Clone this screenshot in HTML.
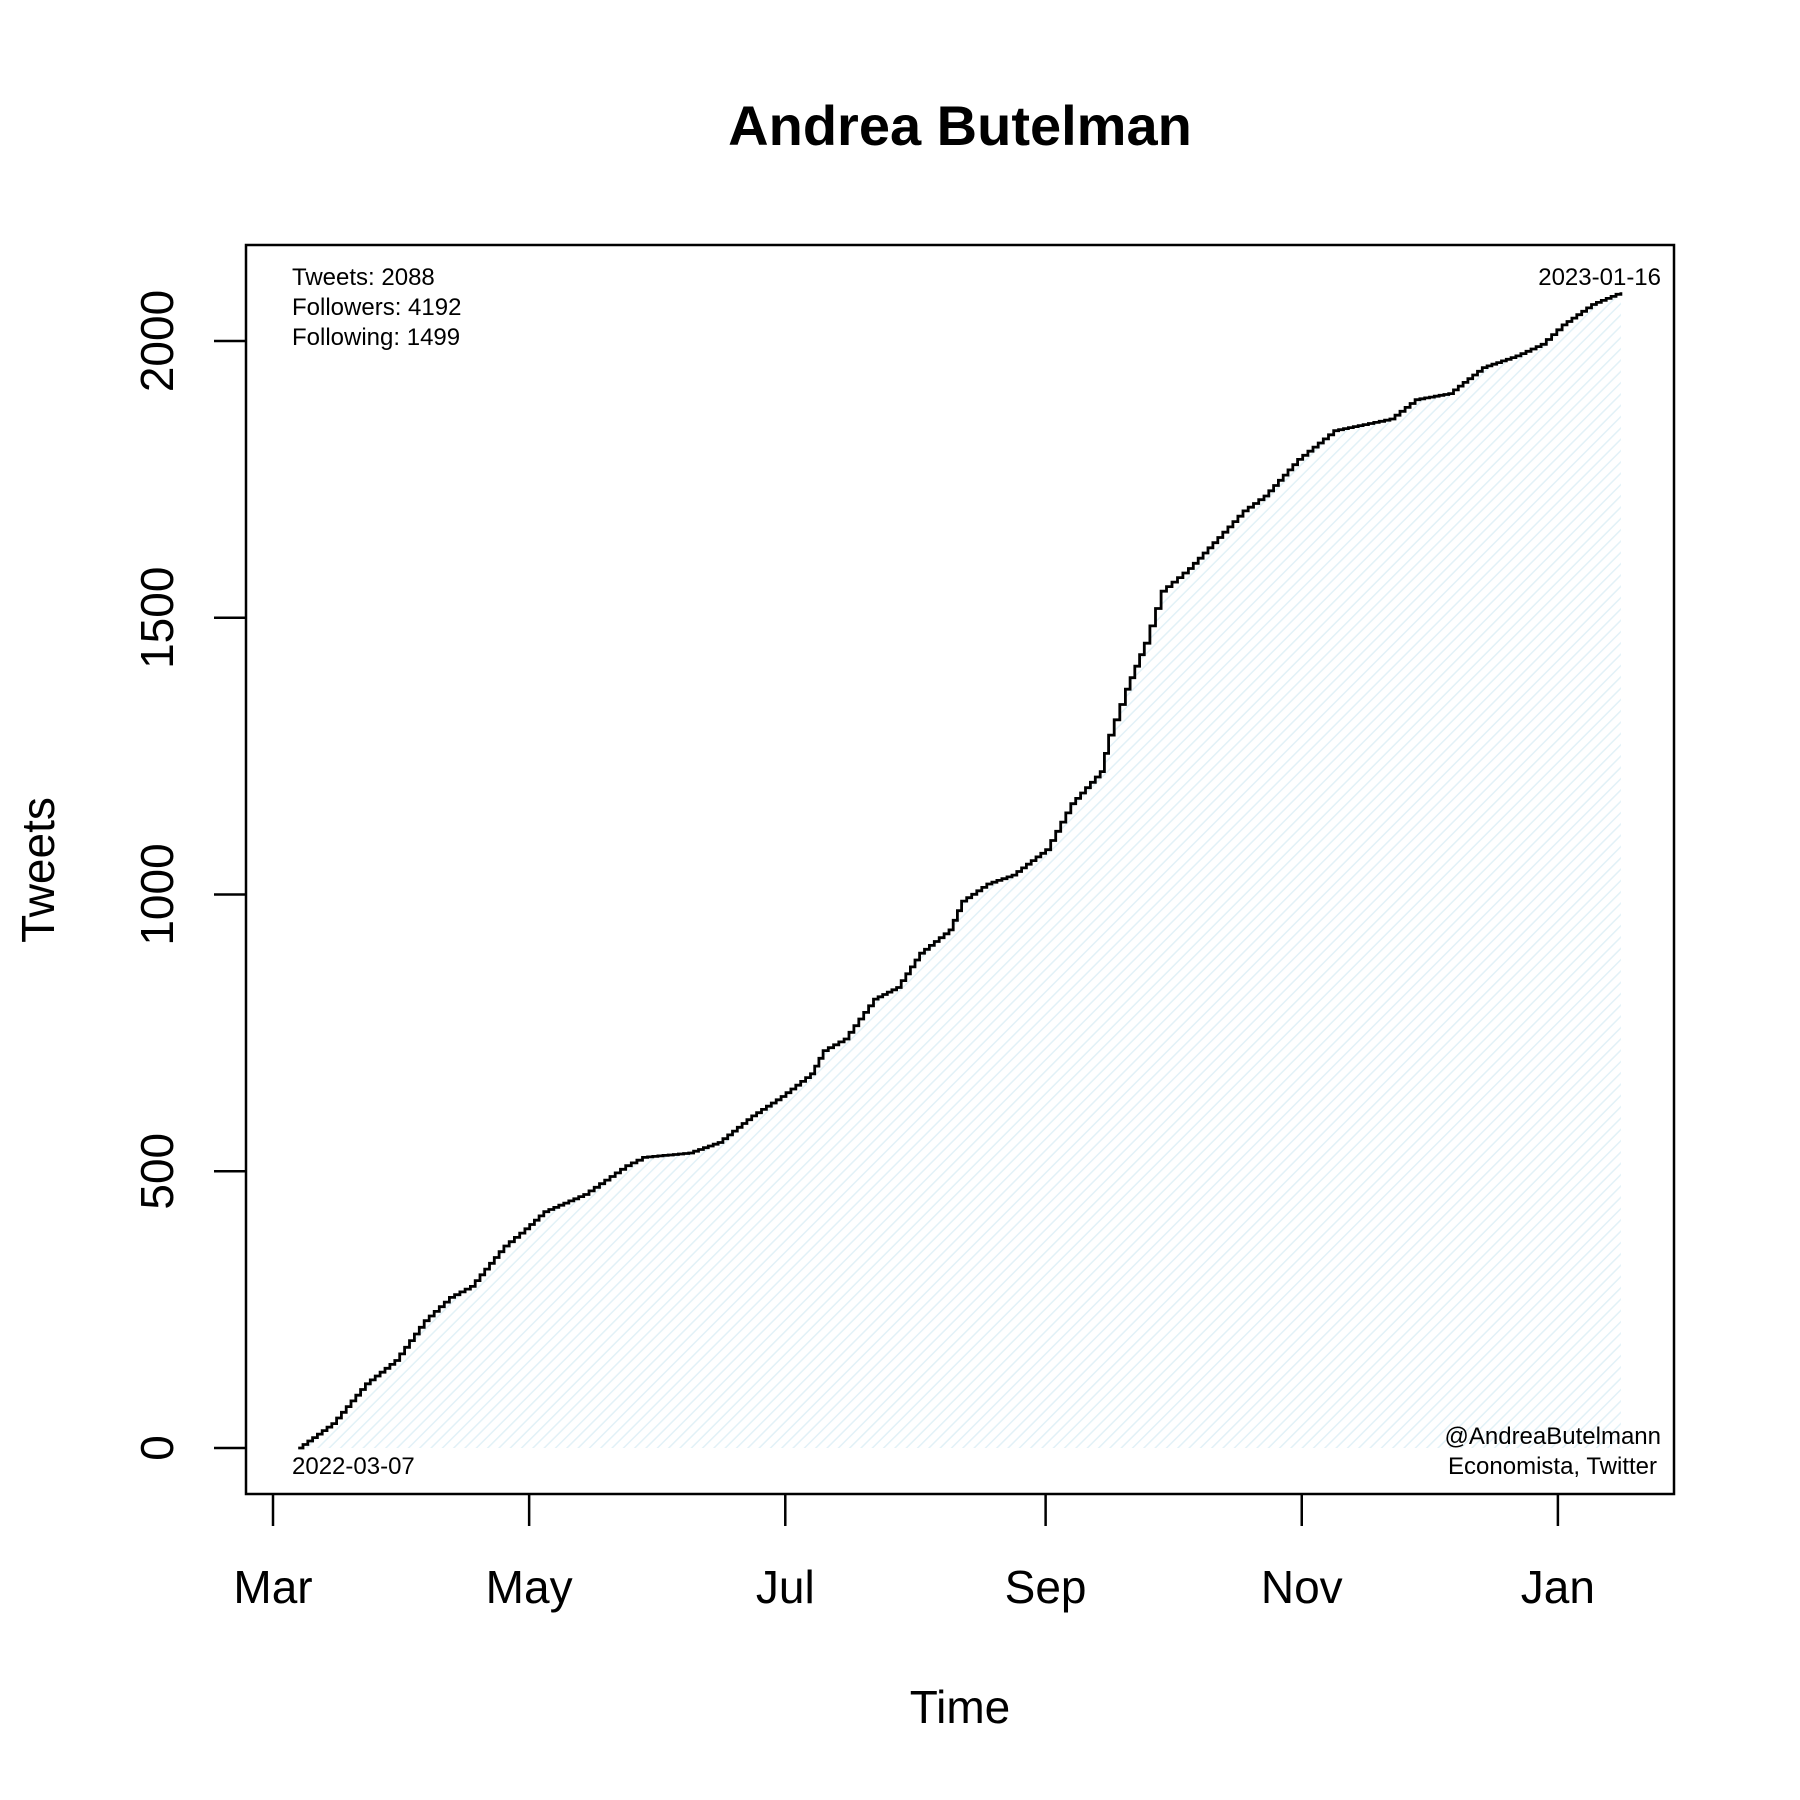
<!DOCTYPE html>
<html><head><meta charset="utf-8"><style>
html,body{margin:0;padding:0;background:#fff;}
svg{display:block;font-family:"Liberation Sans",Arial,sans-serif;}
</style></head><body>
<svg id="chart" width="1800" height="1800" viewBox="0 0 1800 1800" xmlns="http://www.w3.org/2000/svg">
<defs>
<pattern id="hatch" patternUnits="userSpaceOnUse" width="8" height="8" patternTransform="rotate(45)">
<rect width="8" height="8" fill="#ffffff"/>
<line x1="0" y1="0" x2="0" y2="8" stroke="#e2f1f7" stroke-width="3"/>
</pattern>
</defs>
<text x="960" y="145" font-size="56" font-weight="bold" text-anchor="middle">Andrea Butelman</text>
<g id="plot"></g>
<rect x="246" y="245" width="1428" height="1249" fill="none" stroke="#000" stroke-width="2.5"/>
<text x="292" y="285" font-size="24">Tweets: 2088</text>
<text x="292" y="315" font-size="24">Followers: 4192</text>
<text x="292" y="345" font-size="24">Following: 1499</text>
<text x="1661" y="285" font-size="24" text-anchor="end">2023-01-16</text>
<text x="292" y="1474" font-size="24">2022-03-07</text>
<text x="1661" y="1444" font-size="24" text-anchor="end">@AndreaButelmann</text>
<text x="1657" y="1474" font-size="24" text-anchor="end">Economista, Twitter</text>
<text x="960" y="1723" font-size="46" text-anchor="middle">Time</text>
<text transform="translate(54,870) rotate(-90)" font-size="46" text-anchor="middle">Tweets</text>
</svg>
<script>
const days = [6,14,22,29,36,42,47,55,60,64.5,74,84,88,99,106,114,121,128,131,136,143,148.5,154,161,164,170,176,184,190,197,199,203,207.5,211.5,218,225,231,236,244,252.6,259.6,266,272,280,288,296,302,307,314,321];
const counts = [0,44,116,158,230,272,292,365,396,427,458,510,525,533,552,600,635,676,718,739,811,832,894,936,988,1019,1035,1081,1164,1222,1288,1371,1454,1548,1589,1645,1693,1720,1786,1838,1849,1859,1894,1905,1952,1973,1994,2029,2066,2088];
const yTicks = [0,500,1000,1500,2000];
const xTickDays = [0,61,122,184,245,306];
const xTickLabels = ["Mar","May","Jul","Sep","Nov","Jan"];

const xs = d => 273 + d * 4.199;
const ys = v => 1448 - v * 0.5535;
const NS = "http://www.w3.org/2000/svg";
const svg = document.getElementById('chart');
const plot = document.getElementById('plot');
function mk(tag, attrs, parent){ const e=document.createElementNS(NS,tag); for(const k in attrs) e.setAttribute(k,attrs[k]); (parent||svg).appendChild(e); return e; }

let pts = [];
for (let i=0;i<days.length;i++){
  if (i===0){ pts.push([xs(days[0]), ys(counts[0])]); continue; }
  const x0=xs(days[i-1]), x1=xs(days[i]), y0=ys(counts[i-1]), y1=ys(counts[i]);
  const n = Math.max(1, Math.round((x1-x0)/5));
  let py=y0;
  for (let k=1;k<=n;k++){
    const nx = x0+(x1-x0)*k/n, ny = y0+(y1-y0)*k/n;
    pts.push([nx, py]); pts.push([nx, ny]); py=ny;
  }
}
let d = "M"+pts.map(p=>p[0].toFixed(1)+","+p[1].toFixed(1)).join(" L");
const area = mk('path',{d: d+" L"+xs(days[days.length-1]).toFixed(1)+","+ys(0)+" L"+xs(days[0])+","+ys(0)+" Z", fill:"url(#hatch)", stroke:"none"}, plot);


const line = mk('path',{d:d, fill:"none", stroke:"#000", "stroke-width":"2.8"}, plot);



yTicks.forEach(v=>{
  const t = mk('line',{x1:214,x2:246,y1:ys(v),y2:ys(v),stroke:"#000","stroke-width":"2.5"});
  
  
  const l = mk('text',{transform:`translate(173,${ys(v)}) rotate(-90)`,"font-size":"46","text-anchor":"middle"});
  
  
  l.textContent = v;
});
xTickDays.forEach((dd,i)=>{
  const t = mk('line',{x1:xs(dd),x2:xs(dd),y1:1494,y2:1526,stroke:"#000","stroke-width":"2.5"});
  
  
  const l = mk('text',{x:xs(dd),y:1603,"font-size":"46","text-anchor":"middle"});
  
  
  l.textContent = xTickLabels[i];
});
</script>
</body></html>
